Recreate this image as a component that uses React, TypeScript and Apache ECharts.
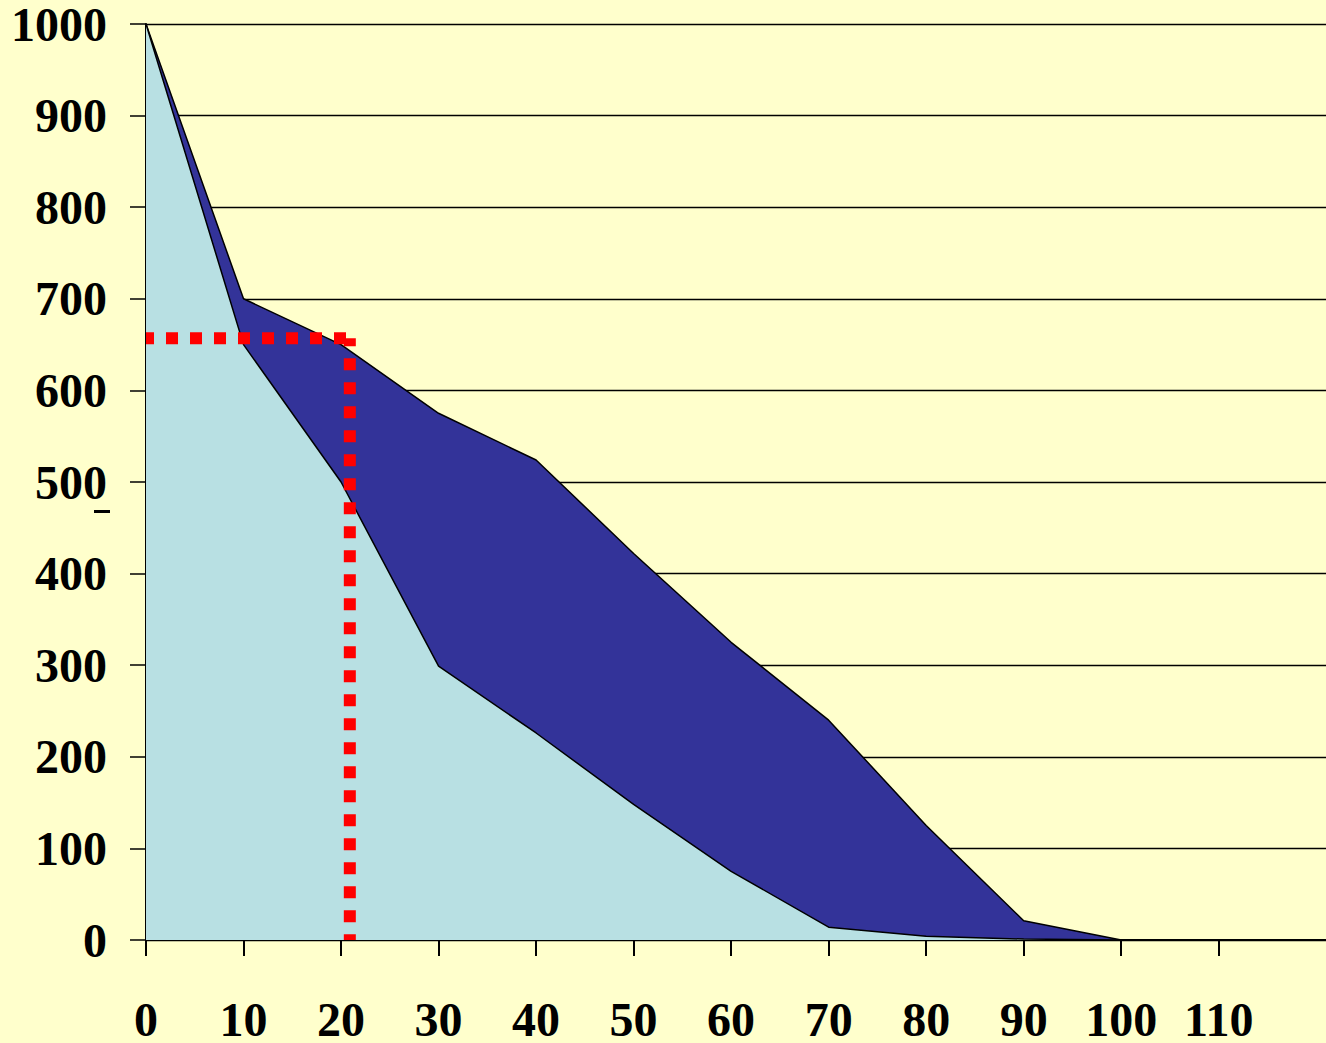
import React, { useEffect, useRef } from "react";
import * as echarts from "echarts";

// Remaining quantity over time: outer envelope and inner curve
const xValues = [0, 10, 20, 30, 40, 50, 60, 70, 80, 90, 100];
const upperValues = [1000, 700, 650, 575, 524, 422, 325, 240, 125, 21, 0];
const lowerValues = [1000, 650, 500, 299, 226, 148, 75, 14, 4, 1, 0];

// Axis tick labels
const xTickLabels = [0, 10, 20, 30, 40, 50, 60, 70, 80, 90, 100, 110];
const yTickLabels = [0, 100, 200, 300, 400, 500, 600, 700, 800, 900, 1000];

// Reading guide: value at x ≈ 20.9
const guideX = 20.9;
const guideY = 657;

const labelFont = {
  fontFamily: "'Liberation Serif', 'Times New Roman', serif",
  fontWeight: "bold" as const,
  fontSize: 48,
  color: "#000",
};

export default function App() {
  const ref = useRef<HTMLDivElement>(null);

  useEffect(() => {
    document.body.style.margin = "0";
    if (!ref.current) return;
    const chart = echarts.init(ref.current, null, { renderer: "svg" });

    const upper = xValues.map((x, i) => [x, upperValues[i]]);
    const lower = xValues.map((x, i) => [x, lowerValues[i]]);
    const plain = (v: number) => String(v);

    chart.setOption({
      animation: false,
      backgroundColor: "#FFFFCC",
      grid: { left: 146, top: 21, width: 1180, height: 920 },
      xAxis: {
        type: "value",
        min: 0,
        max: 121,
        interval: 10,
        axisLine: { show: true, lineStyle: { color: "#000", width: 2 } },
        axisTick: {
          show: true,
          length: 16,
          lineStyle: { color: "#000", width: 2 },
          customValues: xTickLabels,
        },
        axisLabel: { ...labelFont, margin: 55, formatter: plain, customValues: xTickLabels },
        splitLine: { show: false },
      },
      yAxis: {
        type: "value",
        min: 0,
        max: 1000,
        interval: 100,
        axisLine: { show: true, lineStyle: { color: "#000", width: 2 } },
        axisTick: {
          show: true,
          length: 16,
          lineStyle: { color: "#000", width: 1.5 },
          customValues: yTickLabels,
        },
        axisLabel: {
          ...labelFont,
          margin: 39,
          formatter: plain,
          customValues: yTickLabels,
          padding: [16, 0, 0, 0],
        },
        splitLine: { show: true, lineStyle: { color: "#000", width: 1.3 } },
      },
      graphic: [
        {
          type: "rect",
          shape: { x: 94, y: 510, width: 16, height: 3 },
          style: { fill: "#000" },
        },
      ],
      series: [
        {
          type: "line",
          data: upper,
          symbol: "none",
          lineStyle: { color: "#000", width: 1.5 },
          areaStyle: { color: "#333399", opacity: 1 },
          z: 2,
        },
        {
          type: "line",
          data: lower,
          symbol: "none",
          lineStyle: { color: "#000", width: 1.5 },
          areaStyle: { color: "#B8E0E3", opacity: 1 },
          z: 3,
        },
        {
          type: "line",
          data: [
            [0, guideY],
            [guideX, guideY],
          ],
          symbol: "none",
          clip: false,
          lineStyle: { color: "#FF0000", width: 12, type: [12, 12], dashOffset: 4, cap: "butt" },
          z: 5,
        },
        {
          type: "line",
          data: [
            [guideX, guideY],
            [guideX, 0],
          ],
          symbol: "none",
          clip: false,
          lineStyle: { color: "#FF0000", width: 12, type: [12, 12], dashOffset: 4, cap: "butt" },
          z: 5,
        },
      ],
    });

    return () => chart.dispose();
  }, []);

  return <div ref={ref} style={{ width: 1326, height: 1043 }} />;
}
